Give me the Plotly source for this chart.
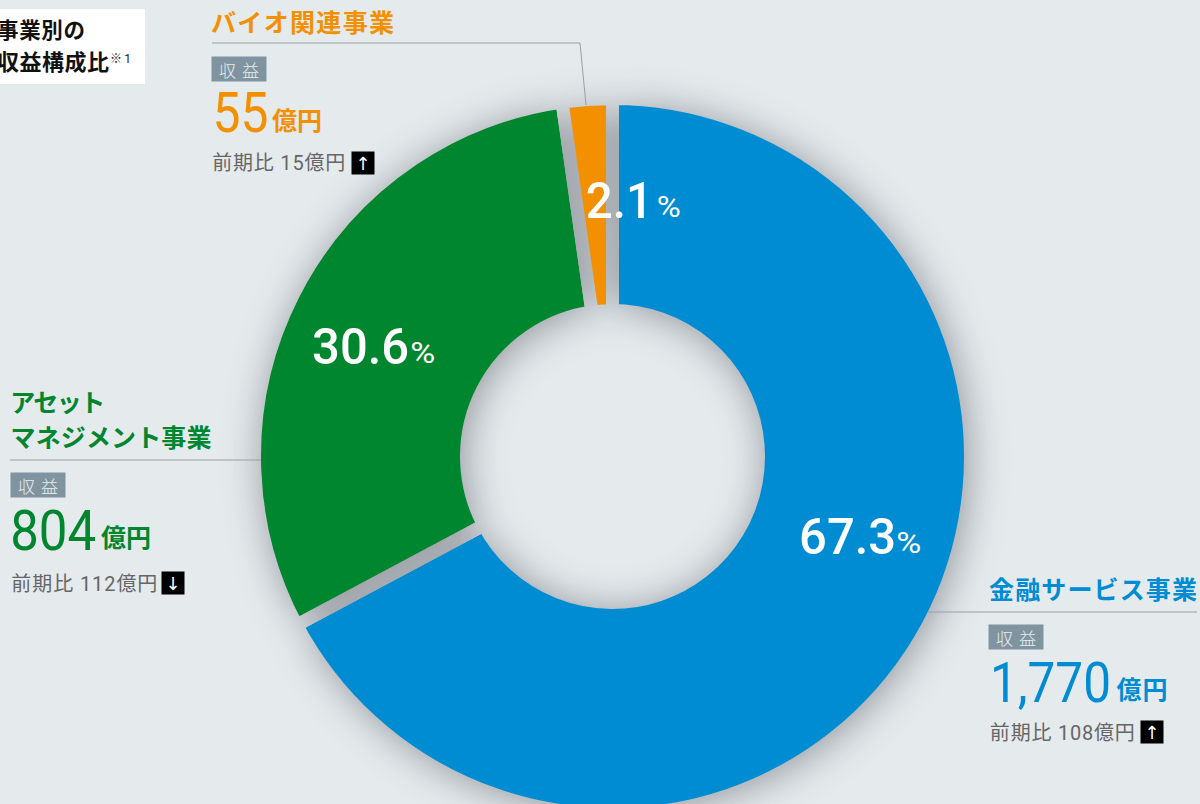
import json
import plotly.graph_objects as go

W, H = 1200, 830  # the lower edge of the ring runs past the 804 px window and is cropped
BG = "#e5eaed"
JP = "Noto Sans CJK JP"
MIX = "Roboto, Noto Sans CJK JP"

categories = ["金融サービス事業", "アセットマネジメント事業", "バイオ関連事業"]
drawn_share = [67.2, 30.55, 2.25]
colors = ["#008cd2", "#00862f", "#f39000"]
shares = ["67.3", "30.6", "2.1"]
revenue_labels = ["1,770", "804", "55"]
prev_labels = ["前期比 108億円", "前期比 112億円", "前期比 15億円"]
arrows = ["↑", "↓", "↑"]

CX, CY, R_OUT, R_IN, GAP = 612.5, 456.5, 351.5, 152.5, 13
r_pie = R_OUT + GAP / 2
r_hole = R_IN - GAP / 2

fig = go.Figure(go.Pie(
    labels=categories, values=drawn_share, sort=False, direction="clockwise", rotation=0,
    hole=r_hole / r_pie, textinfo="none", hoverinfo="skip", showlegend=False,
    marker=dict(colors=colors, line=dict(width=0)),
    domain=dict(x=[(CX - r_pie) / W, (CX + r_pie) / W],
                y=[1 - (CY + r_pie) / H, 1 - (CY - r_pie) / H]),
))

fits = []  # per annotation: [target width in px, how to fit] or None


def px(x):
    return x / W


def py(y):
    return 1 - y / H


def span(s, x0, x1, y, size, color, family=JP, weight="normal", mode="spacing"):
    """Text fitted to the horizontal span x0..x1, centred vertically on y."""
    fig.add_annotation(text=s, x=px((x0 + x1) / 2), y=py(y), xref="paper", yref="paper", showarrow=False,
                       xanchor="center", yanchor="middle", borderpad=0,
                       font=dict(size=size, color=color, family=family, weight=weight))
    fits.append([x1 - x0, mode])


def box(s, x0, y0, x1, y1, size, color, bg, family=JP, weight="normal", fit=None):
    fig.add_annotation(text=s, x=px((x0 + x1) / 2), y=py((y0 + y1) / 2), xref="paper", yref="paper",
                       showarrow=False, xanchor="center", yanchor="middle", borderpad=0,
                       width=x1 - x0, height=y1 - y0, bgcolor=bg, align="center", valign="middle",
                       font=dict(size=size, color=color, family=family, weight=weight))
    fits.append([fit, "spacing"] if fit else None)


def line(x0, y0, x1, y1):
    fig.add_shape(type="line", xref="paper", yref="paper", layer="above",
                  x0=px(x0), y0=py(y0), x1=px(x1), y1=py(y1), line=dict(color="#9a9fa3", width=1))


# title box
fig.add_shape(type="rect", xref="paper", yref="paper", layer="below", line_width=0, fillcolor="#ffffff",
              x0=0, x1=px(145), y0=py(84), y1=py(9))
span("事業別の", -3, 85, 29, 21.5, "#111111", weight="bold")
span("収益構成比", -3, 109, 60.5, 22, "#111111", weight="bold")
span("※1", 110, 131, 59, 12, "#222222", family=MIX)

# block layout: finance, asset, bio
title_lines = [[("金融サービス事業", 989, 1197, 588)],
               [("アセット", 10, 105, 401), ("マネジメント事業", 10, 211, 436)],
               [("バイオ関連事業", 211, 394, 21)]]
title_size = [25, 25, 25]
badges = [(989, 625), (11, 473), (212, 57)]
value_span = [(990, 1111, 683), (10, 96, 531), (212, 268, 113)]
unit_span = [(1116, 1167, 688), (101, 151, 536), (272, 322, 119)]
prev_span = [(990, 1135, 733), (11, 157, 583.5), (212, 345, 163)]
arrow_pos = [(1141, 721), (162, 572), (352, 152)]
pct_span = [(799, 896, 537), (312, 409, 347), (586, 653, 201)]
percent_span = [(896, 921, 543), (410, 435, 353), (656, 680, 207)]

for i in range(3):
    for s, x0, x1, y in title_lines[i]:
        span(s, x0, x1, y, title_size[i], colors[i], weight="bold")
    bx, by = badges[i]
    box("収 益", bx, by, bx + 54, by + 24, 17, "#e8edf0", "#7f949f", weight=300, fit=40)
    x0, x1, y = value_span[i]
    span(revenue_labels[i], x0, x1, y, 56, colors[i], family="Roboto", weight=400, mode="spacingAndGlyphs")
    x0, x1, y = unit_span[i]
    span("億円", x0, x1, y, 25, colors[i], weight="bold")
    x0, x1, y = prev_span[i]
    span(prev_labels[i], x0, x1, y, 20, "#666666", family=MIX)
    ax, ay = arrow_pos[i]
    box(arrows[i], ax, ay, ax + 22, ay + 22, 18, "#ffffff", "#000000", family="DejaVu Sans")
    x0, x1, y = pct_span[i]
    span(shares[i], x0, x1, y, 50, "#ffffff", family="Roboto", weight=500, mode="spacingAndGlyphs")
    x0, x1, y = percent_span[i]
    span("%", x0, x1, y, 29, "#ffffff", family="Roboto", mode="spacingAndGlyphs")

line(928, 612, 1197, 612)
line(10, 460, 261, 460)
line(212, 43, 580, 43)
line(580, 43, 586, 105)

fig.update_layout(width=W, height=H, margin=dict(l=0, r=0, t=0, b=0), paper_bgcolor=BG, plot_bgcolor=BG)

# Cut the constant-width gaps out of the slices with a mask so that the soft shadow shows through them,
# and fit the condensed numerals / tracked headings to the widths measured in the reference.
post = """
document.body.style.margin='0';
document.documentElement.style.overflow='hidden';
document.body.style.overflow='hidden';
var gd=document.getElementById('{plot_id}');
var NS='http://www.w3.org/2000/svg';
var tr=gd.querySelector('.pielayer g.trace');
var svg=tr.ownerSVGElement;
var m=document.createElementNS(NS,'mask');
m.setAttribute('id','gapmask');
m.setAttribute('maskUnits','userSpaceOnUse');
m.setAttribute('x','-100');m.setAttribute('y','-100');
m.setAttribute('width','1500');m.setAttribute('height','1100');
var c=tr.cloneNode(true);
c.querySelectorAll('path.surface').forEach(function(p){
  p.style.setProperty('fill','#fff');p.style.setProperty('fill-opacity','1');
  p.style.setProperty('stroke','#000');p.style.setProperty('stroke-width','%GAP%px');
  p.style.setProperty('stroke-opacity','1');
});
m.appendChild(c);
svg.appendChild(m);
tr.setAttribute('mask','url(#gapmask)');
tr.parentNode.style.filter='drop-shadow(3px 3px 20px rgba(40,45,55,0.45))';
var fits=%FITS%;
gd.querySelectorAll('.annotation').forEach(function(a,i){
  var f=fits[parseInt(a.getAttribute('data-index'))];
  if(!f) return;
  var t=a.querySelector('text.annotation-text');
  t.setAttribute('textLength',f[0]);
  t.setAttribute('lengthAdjust',f[1]);
});
""".replace("%GAP%", str(GAP)).replace("%FITS%", json.dumps(fits))

fig.write_html("out.html", post_script=post, config={"displayModeBar": False})
